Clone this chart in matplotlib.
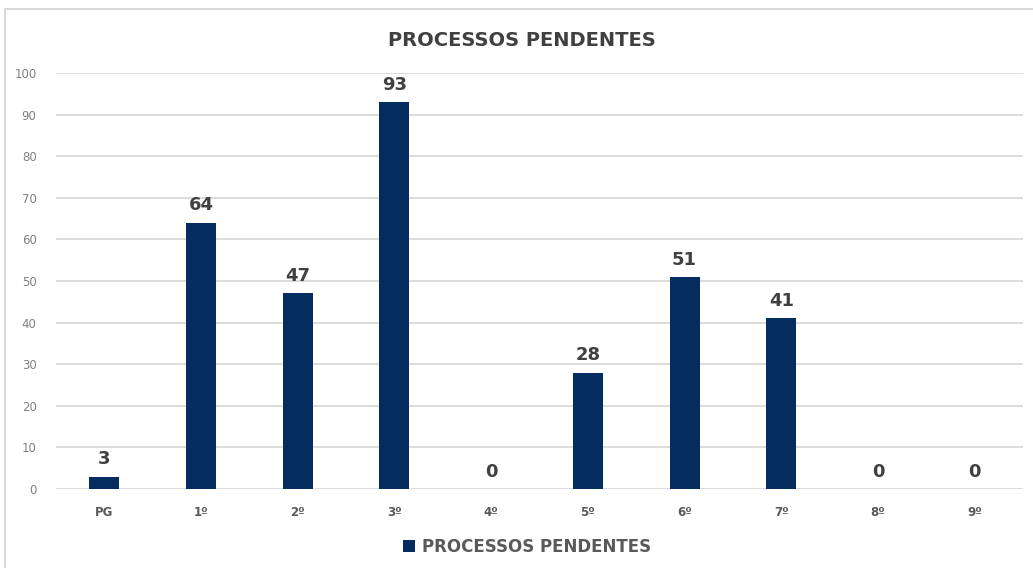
import matplotlib
matplotlib.use("Agg")
import matplotlib.pyplot as plt
from matplotlib.patches import Rectangle, Patch

categories = ["PG", "1º", "2º", "3º", "4º", "5º", "6º", "7º", "8º", "9º"]
values = [3, 64, 47, 93, 0, 28, 51, 41, 0, 0]
series_name = "PROCESSOS PENDENTES"
title = "PROCESSOS PENDENTES"
yticks = [0, 10, 20, 30, 40, 50, 60, 70, 80, 90, 100]

bar_color = "#052C5E"
text_dark = "#404040"
tick_gray = "#808080"
grid_gray = "#D9D9D9"

W, H = 1033, 568
fig = plt.figure(figsize=(W / 100, H / 100), dpi=100)
fig.patch.set_facecolor("white")

# outer frame of chart area
fig.patches.append(Rectangle((5 / W, -0.1), 1.2, (H - 9) / H + 0.1,
                             transform=fig.transFigure, fill=False,
                             edgecolor="#D9D9D9", linewidth=1.5))

ax = fig.add_axes([56 / W, (H - 489) / H, (1023 - 56) / W, (489 - 73) / H])
x = range(len(categories))
bars = ax.bar(x, values, width=0.31, color=bar_color, zorder=3)

ax.set_xlim(-0.5, len(categories) - 0.5)
ax.set_ylim(0, 100)
ax.set_yticks(yticks)
ax.set_yticklabels([str(t) for t in yticks], fontsize=8.5, color=tick_gray)
ax.set_xticks(list(x))
ax.set_xticklabels(categories, fontsize=8.5, color="#595959", fontweight="bold")
ax.tick_params(axis="both", length=0)
ax.tick_params(axis="y", pad=14)
ax.tick_params(axis="x", pad=12)
ax.grid(axis="y", color=grid_gray, linewidth=1.3, zorder=0)
for s in ax.spines.values():
    s.set_visible(False)

for xi, v in zip(x, values):
    ax.annotate(str(v), (xi, v), xytext=(0, 6), textcoords="offset points",
                ha="center", va="bottom", fontsize=13, fontweight="bold",
                color=text_dark, family="DejaVu Sans")

fig.text(522 / W, 1 - 40 / H, title, ha="center", va="center",
         fontsize=14, fontweight="bold", color=text_dark)

leg = fig.legend(handles=[Patch(facecolor=bar_color, label=series_name)],
                 loc="center", bbox_to_anchor=(527 / W, 1 - 547 / H),
                 frameon=False, handlelength=0.7, handleheight=0.7,
                 handletextpad=0.4, prop={"size": 12, "weight": "bold"})
for t in leg.get_texts():
    t.set_color("#595959")

fig.savefig("out.png", dpi=100, facecolor="white")
